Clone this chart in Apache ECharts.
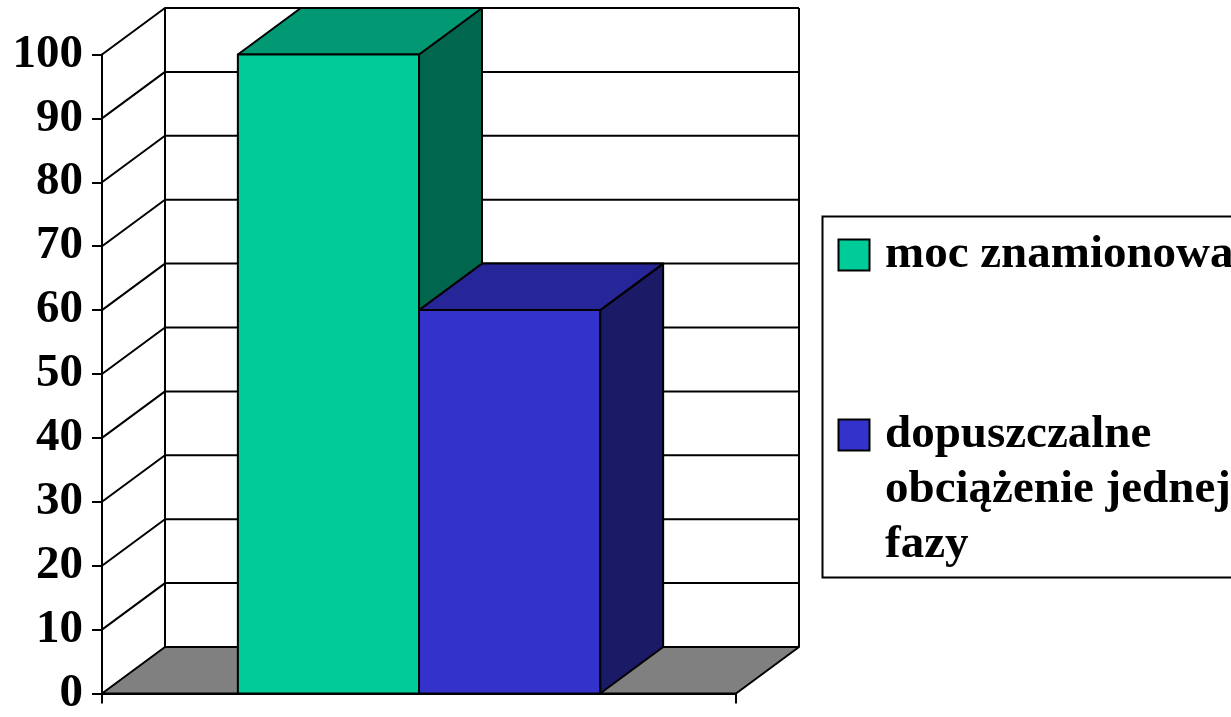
<!DOCTYPE html>
<html>
<head>
<meta charset="utf-8">
<script src="https://cdn.jsdelivr.net/npm/echarts@6/dist/echarts.min.js"></script>
<style>
  html, body { margin: 0; padding: 0; background: #fff; }
  #chart { width: 1231px; height: 717px; }
</style>
</head>
<body>
<div id="chart"></div>
<script>
// Data
const categories = [''];
const seriesNames = ['moc znamionowa', 'dopuszczalne obciążenie jednej fazy'];
const legendLines = [['moc znamionowa'], ['dopuszczalne', 'obciążenie jednej', 'fazy']];
const mocZnamionowa = [100];
const dopuszczalneObciazenie = [60];
const yTicks = [0, 10, 20, 30, 40, 50, 60, 70, 80, 90, 100];

// Styling
const frontColors = ['#00CC99', '#3333CC'];
const topColors = ['#009973', '#262699'];
const sideColors = ['#00664D', '#1A1A66'];
const floorColor = '#808080';
const FONT_FAMILY = '"Liberation Serif", "Times New Roman", serif';
const DX = 63, DY = -46.5;   // depth offset of the 3-D plot box
const GAP = 1.5;             // gap width as a fraction of one bar width
const LINE = { stroke: '#000', lineWidth: 2, lineJoin: 'round' };

// Back wall, side wall gridlines and floor
function renderWalls(params, api) {
  const cs = params.coordSys;
  const x0 = cs.x, x1 = cs.x + cs.width;
  const v = api.value(1);
  const y = api.coord([0, v])[1];
  const children = [];
  if (v === yTicks[0]) {
    const yTop = api.coord([0, yTicks[yTicks.length - 1]])[1];
    children.push({
      type: 'polyline',
      shape: { points: [[x0 + DX, y + DY], [x0 + DX, yTop + DY]] },
      style: Object.assign({ fill: null }, LINE)
    });
    children.push({
      type: 'polyline',
      shape: { points: [[x1 + DX, y + DY], [x1 + DX, yTop + DY]] },
      style: Object.assign({ fill: null }, LINE)
    });
    children.push({
      type: 'polygon',
      shape: { points: [[x0, y], [x1, y], [x1 + DX, y + DY], [x0 + DX, y + DY]] },
      style: Object.assign({ fill: floorColor }, LINE)
    });
  } else {
    children.push({
      type: 'polyline',
      shape: { points: [[x0, y], [x0 + DX, y + DY], [x1 + DX, y + DY]] },
      style: Object.assign({ fill: null }, LINE)
    });
  }
  return { type: 'group', children: children };
}

// 3-D column: front face, top and right side
function makeBarRenderer(i) {
  return function (params, api) {
    const base = api.coord([api.value(0), 0]);
    const top = api.coord([api.value(0), api.value(1)]);
    const band = api.size([1, 0])[0];
    const n = seriesNames.length;
    const w = band / (n + GAP);
    const left = base[0] - n * w / 2 + i * w;
    const right = left + w;
    const yb = base[1], yt = top[1];
    return {
      type: 'group',
      children: [
        {
          type: 'polygon',
          shape: { points: [[right, yb], [right + DX, yb + DY], [right + DX, yt + DY], [right, yt]] },
          style: Object.assign({ fill: sideColors[i] }, LINE)
        },
        {
          type: 'polygon',
          shape: { points: [[left, yt], [right, yt], [right + DX, yt + DY], [left + DX, yt + DY]] },
          style: Object.assign({ fill: topColors[i] }, LINE)
        },
        {
          type: 'rect',
          shape: { x: left, y: yt, width: w, height: yb - yt },
          style: Object.assign({ fill: frontColors[i] }, LINE)
        }
      ]
    };
  };
}

const seriesValues = [mocZnamionowa, dopuszczalneObciazenie];

// Legend box drawn as graphic elements
const legendItemTops = [239.5, 419.5];
const legendGraphic = [{
  type: 'rect',
  shape: { x: 822.5, y: 216.5, width: 500, height: 361 },
  style: { fill: '#fff', stroke: '#000', lineWidth: 2 },
  z: 10
}];
legendLines.forEach(function (lines, i) {
  legendGraphic.push({
    type: 'rect',
    shape: { x: 838.5, y: legendItemTops[i], width: 31, height: 31 },
    style: { fill: frontColors[i], stroke: '#000', lineWidth: 2 },
    z: 11
  });
  legendGraphic.push({
    type: 'text',
    x: 885,
    y: legendItemTops[i] - 12,
    style: {
      text: lines.join('\n'),
      font: 'bold 47px ' + FONT_FAMILY,
      fill: '#000',
      lineHeight: 55,
      verticalAlign: 'top',
      align: 'left'
    },
    z: 11
  });
});

const chart = echarts.init(document.getElementById('chart'), null, { renderer: 'canvas' });
chart.setOption({
  animation: false,
  backgroundColor: '#fff',
  grid: { left: 102, right: 495, top: 54.5, bottom: 20.3, containLabel: false },
  xAxis: {
    type: 'category',
    data: categories,
    boundaryGap: true,
    axisLine: { show: true, lineStyle: { color: '#000', width: 2 } },
    axisTick: { show: true, length: 10, inside: false, lineStyle: { color: '#000', width: 2 } },
    axisLabel: { show: false },
    splitLine: { show: false }
  },
  yAxis: {
    type: 'value',
    min: 0,
    max: 100,
    interval: 10,
    axisLine: { show: true, lineStyle: { color: '#000', width: 2 } },
    axisTick: { show: true, length: 10, lineStyle: { color: '#000', width: 2 } },
    axisLabel: {
      margin: 19,
      color: '#000',
      fontSize: 47,
      fontWeight: 'bold',
      fontFamily: FONT_FAMILY,
      padding: [10, 0, 0, 0]
    },
    splitLine: { show: false }
  },
  graphic: legendGraphic,
  series: [
    {
      type: 'custom',
      name: 'walls',
      silent: true,
      renderItem: renderWalls,
      data: yTicks.map(function (v) { return [0, v]; }),
      z: 1
    }
  ].concat(seriesNames.map(function (name, i) {
    return {
      type: 'custom',
      name: name,
      renderItem: makeBarRenderer(i),
      data: categories.map(function (c, k) { return [k, seriesValues[i][k]]; }),
      z: 2 + i
    };
  }))
});
</script>
</body>
</html>
